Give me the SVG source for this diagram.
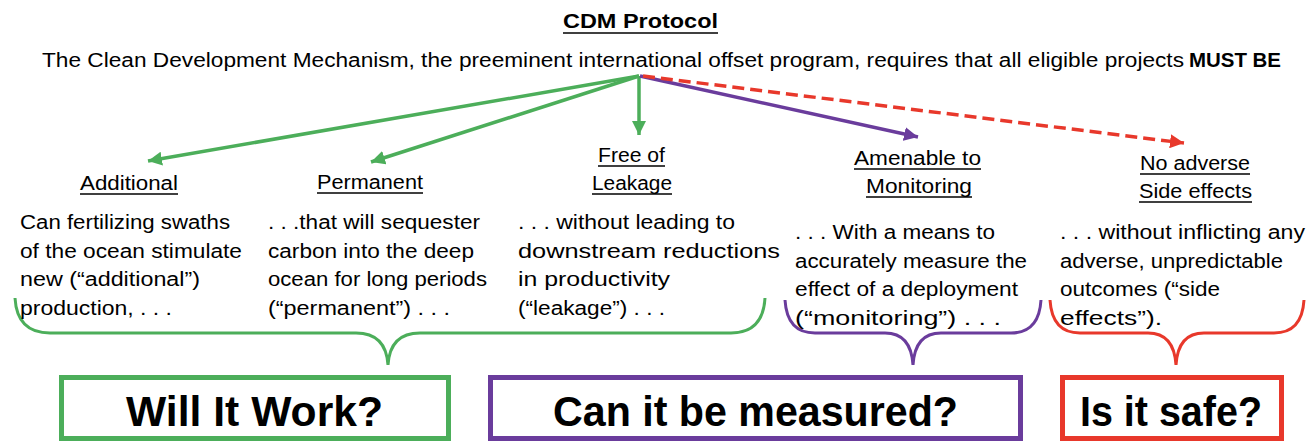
<svg xmlns="http://www.w3.org/2000/svg" width="1310" height="441" viewBox="0 0 1310 441">
<style>
text{font-family:"Liberation Sans",Arial,sans-serif;fill:#000}
.t{font-size:20px}
.b{font-weight:bold}
.lbl{font-size:19.5px}
.ul{stroke:#000;stroke-width:1.5}
.big{font-size:42px;font-weight:bold}
.g{stroke:#4cae5a}
.p{stroke:#6a3c9c}
.r{stroke:#e8382b}
.ln{stroke-width:3.5;fill:none}
.br{stroke-width:3;fill:none}
.box{fill:none;stroke-width:5}
</style>
<defs>
<marker id="ag" markerUnits="userSpaceOnUse" markerWidth="16" markerHeight="14" refX="14" refY="7" orient="auto"><path d="M0,0 L14,7 L0,14 Z" fill="#4cae5a"/></marker>
<marker id="ap" markerUnits="userSpaceOnUse" markerWidth="16" markerHeight="14" refX="14" refY="7" orient="auto"><path d="M0,0 L14,7 L0,14 Z" fill="#6a3c9c"/></marker>
<marker id="ar" markerUnits="userSpaceOnUse" markerWidth="16" markerHeight="14" refX="14" refY="7" orient="auto"><path d="M0,0 L14,7 L0,14 Z" fill="#e8382b"/></marker>
</defs>

<g id="header">
<text x="563" y="28" class="b" font-size="21" textLength="155" lengthAdjust="spacingAndGlyphs">CDM Protocol</text>
<line class="ul" x1="563" y1="33" x2="718" y2="33" stroke-width="2"/>
<text x="42" y="67" class="t" textLength="1142" lengthAdjust="spacingAndGlyphs">The Clean Development Mechanism, the preeminent international offset program, requires that all eligible projects</text>
<text x="1189" y="67" class="t b" textLength="92" lengthAdjust="spacingAndGlyphs">MUST BE</text>
</g>

<g id="connectors">
<line class="ln g" x1="639" y1="76" x2="148" y2="161" marker-end="url(#ag)"/>
<line class="ln g" x1="639" y1="76" x2="371" y2="162" marker-end="url(#ag)"/>
<line class="ln g" x1="639" y1="76" x2="639" y2="135" marker-end="url(#ag)"/>
<line class="ln p" x1="640" y1="76" x2="918" y2="137" marker-end="url(#ap)"/>
<line class="ln r" x1="643" y1="76" x2="1184" y2="143" stroke-dasharray="12,6" marker-end="url(#ar)"/>
<path class="br g" d="M15,298 Q17,333 50,333 L356,333 Q386,333 388,365 Q390,333 420,333 L731,333 Q763,333 765,298"/>
<path class="br p" d="M785,300 Q787,333 815,333 L885,333 Q911,333 913,365 Q915,333 941,333 L1011,333 Q1039,333 1041,300"/>
<path class="br r" d="M1050,300 Q1052,333 1080,333 L1148,333 Q1174,333 1176,365 Q1178,333 1204,333 L1274,333 Q1302,333 1304,300"/>
</g>

<g id="additional">
<text x="80" y="190" class="lbl" textLength="98" lengthAdjust="spacingAndGlyphs">Additional</text>
<line class="ul" x1="80" y1="194" x2="178" y2="194"/>
<text x="20" y="229" class="t" textLength="210" lengthAdjust="spacingAndGlyphs">Can fertilizing swaths</text>
<text x="20" y="257.5" class="t" textLength="222" lengthAdjust="spacingAndGlyphs">of the ocean stimulate</text>
<text x="20" y="286" class="t" textLength="180" lengthAdjust="spacingAndGlyphs">new (“additional”)</text>
<text x="20" y="314.5" class="t" textLength="152" lengthAdjust="spacingAndGlyphs">production, . . .</text>
</g>

<g id="permanent">
<text x="317" y="189" class="lbl" textLength="106" lengthAdjust="spacingAndGlyphs">Permanent</text>
<line class="ul" x1="317" y1="193" x2="423" y2="193"/>
<text x="268" y="229" class="t" textLength="212" lengthAdjust="spacingAndGlyphs">. . .that will sequester</text>
<text x="268" y="257.5" class="t" textLength="206" lengthAdjust="spacingAndGlyphs">carbon into the deep</text>
<text x="268" y="286" class="t" textLength="219" lengthAdjust="spacingAndGlyphs">ocean for long periods</text>
<text x="268" y="314.5" class="t" textLength="182" lengthAdjust="spacingAndGlyphs">(“permanent”) . . .</text>
</g>

<g id="leakage">
<text x="598" y="162" class="lbl" textLength="67" lengthAdjust="spacingAndGlyphs">Free of</text>
<line class="ul" x1="598" y1="166" x2="665" y2="166"/>
<text x="592" y="190" class="lbl" textLength="80" lengthAdjust="spacingAndGlyphs">Leakage</text>
<line class="ul" x1="592" y1="194" x2="672" y2="194"/>
<text x="518" y="229" class="t" textLength="217" lengthAdjust="spacingAndGlyphs">. . . without leading to</text>
<text x="518" y="257.5" class="t" textLength="262" lengthAdjust="spacingAndGlyphs">downstream reductions</text>
<text x="518" y="286" class="t" textLength="152" lengthAdjust="spacingAndGlyphs">in productivity</text>
<text x="518" y="314.5" class="t" textLength="147" lengthAdjust="spacingAndGlyphs">(“leakage”) . . .</text>
</g>

<g id="monitoring">
<text x="854" y="165" class="lbl" textLength="127" lengthAdjust="spacingAndGlyphs">Amenable to</text>
<line class="ul" x1="854" y1="169" x2="981" y2="169"/>
<text x="866" y="193" class="lbl" textLength="106" lengthAdjust="spacingAndGlyphs">Monitoring</text>
<line class="ul" x1="866" y1="197" x2="972" y2="197"/>
<text x="795" y="239" class="t" textLength="200" lengthAdjust="spacingAndGlyphs">. . . With a means to</text>
<text x="795" y="267.5" class="t" textLength="232" lengthAdjust="spacingAndGlyphs">accurately measure the</text>
<text x="795" y="296" class="t" textLength="223" lengthAdjust="spacingAndGlyphs">effect of a deployment</text>
<text x="795" y="324.5" class="t" textLength="206" lengthAdjust="spacingAndGlyphs">(“monitoring”) . . .</text>
</g>

<g id="sideeffects">
<text x="1140" y="170" class="lbl" textLength="110" lengthAdjust="spacingAndGlyphs">No adverse</text>
<line class="ul" x1="1140" y1="174" x2="1250" y2="174"/>
<text x="1139" y="198" class="lbl" textLength="113" lengthAdjust="spacingAndGlyphs">Side effects</text>
<line class="ul" x1="1139" y1="202" x2="1252" y2="202"/>
<text x="1060" y="239" class="t" textLength="245" lengthAdjust="spacingAndGlyphs">. . . without inflicting any</text>
<text x="1060" y="267.5" class="t" textLength="223" lengthAdjust="spacingAndGlyphs">adverse, unpredictable</text>
<text x="1060" y="296" class="t" textLength="160" lengthAdjust="spacingAndGlyphs">outcomes (“side</text>
<text x="1060" y="324.5" class="t" textLength="102" lengthAdjust="spacingAndGlyphs">effects”).</text>
</g>

<g id="box-work">
<rect class="box g" x="61.5" y="377.5" width="387" height="61"/>
<text x="126" y="426" class="big" textLength="257" lengthAdjust="spacingAndGlyphs">Will It Work?</text>
</g>
<g id="box-measured">
<rect class="box p" x="490.5" y="377.5" width="530" height="61"/>
<text x="553" y="426" class="big" textLength="405" lengthAdjust="spacingAndGlyphs">Can it be measured?</text>
</g>
<g id="box-safe">
<rect class="box r" x="1062.5" y="377.5" width="219" height="61"/>
<text x="1080" y="426" class="big" textLength="182" lengthAdjust="spacingAndGlyphs">Is it safe?</text>
</g>
</svg>
